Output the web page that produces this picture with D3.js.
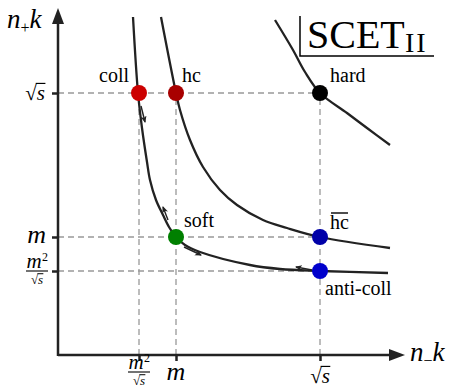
<!DOCTYPE html>
<html><head><meta charset="utf-8">
<script src="https://cdn.jsdelivr.net/npm/d3@7"></script>
<style>body{margin:0;background:#fff}svg{display:block}</style>
</head><body>
<script>
// ---- data (schematic units, origin at axes crossing) ----
const xTickVals = [81, 118, 262];          // m^2/√s, m, √s
const yTickVals = [84, 118, 262];          // m^2/√s, m, √s
const tickKinds = ["frac", "m", "sqrt"];

const pointNames  = ["coll", "hc", "hard", "soft", "hc\u0305", "anti-coll"];
const pointX      = [81, 118, 262, 118, 262, 262];
const pointY      = [262, 262, 262, 118, 118, 84];
const pointColors = ["#cc0000", "#a80000", "#000000", "#008000", "#0000a8", "#0000cc"];

// hyperbola-like curves
const curveCollX = [75, 80, 84, 89, 92, 98, 105, 111, 118, 127, 142, 192, 222, 262, 330];
const curveCollY = [338, 262, 227, 193, 175, 155, 140, 128, 118, 110, 103, 90, 86, 84, 82];
const curveHcX   = [103, 118, 122, 132, 145, 162, 179, 205, 229, 262, 332];
const curveHcY   = [338, 262, 245, 215, 188, 165, 150, 135, 127, 118, 107];
const curveHardX = [217, 235, 247, 262, 289, 309, 332];
const curveHardY = [335, 305, 283, 262, 242, 227, 210];

// flow arrows along the coll/soft/anti-coll curve
const arrowX0 = [83, 110, 126, 254];
const arrowY0 = [249, 135, 108, 85];
const arrowX1 = [87, 105, 143, 238];
const arrowY1 = [233, 148, 100, 88];

// ---- setup ----
const W = 450, H = 388;
const FONT = '"Liberation Serif"';
const svg = d3.select("body").append("svg").attr("width", W).attr("height", H)
  .attr("font-family", "Liberation Serif").style("font-family", FONT);
const x = d3.scaleLinear().domain([0, 347]).range([58, 405]);
const y = d3.scaleLinear().domain([0, 347]).range([355, 8]);
const ink = "#222";

svg.append("defs").append("marker")
  .attr("id", "ah").attr("markerUnits", "userSpaceOnUse")
  .attr("markerWidth", 8).attr("markerHeight", 8)
  .attr("refX", 6).attr("refY", 3).attr("orient", "auto")
  .append("path").attr("d", "M0,0 L7,3 L0,6 L2,3 z").attr("fill", ink);

// dashed guide lines
const guides = svg.append("g").attr("stroke", "#999").attr("stroke-width", 1.3)
  .attr("stroke-dasharray", "6,4").attr("fill", "none");
xTickVals.forEach(v => guides.append("line")
  .attr("x1", x(v)).attr("x2", x(v)).attr("y1", y(0)).attr("y2", y(yTickVals[2])));
yTickVals.forEach(v => guides.append("line")
  .attr("x1", x(0)).attr("x2", x(xTickVals[2])).attr("y1", y(v)).attr("y2", y(v)));

// axes with ticks
const xAxis = svg.append("g").attr("transform", `translate(0,${y(0)})`)
  .call(d3.axisBottom(x).tickValues(xTickVals).tickSize(6).tickFormat(""));
const yAxis = svg.append("g").attr("transform", `translate(${x(0)},0)`)
  .call(d3.axisLeft(y).tickValues(yTickVals).tickSize(6).tickFormat(""));
[xAxis, yAxis].forEach(a => {
  a.attr("font-family", null).attr("font-size", null);
  a.select(".domain").remove();
  a.selectAll(".tick text").remove();
  a.selectAll(".tick line").attr("stroke", ink).attr("stroke-width", 2.5);
});
svg.append("line").attr("x1", x(0)).attr("x2", x(333)).attr("y1", y(0)).attr("y2", y(0))
  .attr("stroke", ink).attr("stroke-width", 2.5);
svg.append("line").attr("x1", x(0)).attr("x2", x(0)).attr("y1", y(-1)).attr("y2", y(333))
  .attr("stroke", ink).attr("stroke-width", 2.5);
svg.append("path").attr("fill", ink)
  .attr("d", `M${x(347)},${y(0)} L${x(331)},${y(0) - 6} L${x(331)},${y(0) + 6} Z`);
svg.append("path").attr("fill", ink)
  .attr("d", `M${x(0)},${y(347)} L${x(0) - 6},${y(331)} L${x(0) + 6},${y(331)} Z`);

// curves
const line = d3.line().x(d => x(d[0])).y(d => y(d[1])).curve(d3.curveCatmullRom.alpha(0.5));
[[curveCollX, curveCollY], [curveHcX, curveHcY], [curveHardX, curveHardY]].forEach(([xs, ys]) => {
  svg.append("path").attr("d", line(d3.zip(xs, ys)))
    .attr("fill", "none").attr("stroke", ink).attr("stroke-width", 2.3);
});

// flow arrows
arrowX0.forEach((v, i) => {
  svg.append("line").attr("x1", x(v)).attr("y1", y(arrowY0[i]))
    .attr("x2", x(arrowX1[i])).attr("y2", y(arrowY1[i]))
    .attr("stroke", ink).attr("stroke-width", 1.4).attr("marker-end", "url(#ah)");
});

// points
pointNames.forEach((n, i) => {
  svg.append("circle").attr("cx", x(pointX[i])).attr("cy", y(pointY[i])).attr("r", 8)
    .attr("fill", pointColors[i]);
});

function T(g) {
  return g.append("text").attr("font-family", "Liberation Serif")
    .style("font-family", FONT).attr("fill", "#000");
}

// point labels
function label(txt, px, py, anchor) {
  return T(svg).attr("x", px).attr("y", py).attr("text-anchor", anchor || "start")
    .attr("font-size", 20).text(txt);
}
label(pointNames[0], x(pointX[0]) - 10, y(pointY[0]) - 11, "end");
label(pointNames[1], x(pointX[1]) + 6, y(pointY[1]) - 11);
label(pointNames[2], x(pointX[2]) + 10, y(pointY[2]) - 11);
label(pointNames[3], x(pointX[3]) + 8, y(pointY[3]) - 10);
label("hc", x(pointX[4]) + 10, y(pointY[4]) - 8);
svg.append("line").attr("x1", x(pointX[4]) + 11).attr("x2", x(pointX[4]) + 28)
  .attr("y1", y(pointY[4]) - 24).attr("y2", y(pointY[4]) - 24)
  .attr("stroke", "#000").attr("stroke-width", 1.4);
label(pointNames[5], x(pointX[5]) + 5, y(pointY[5]) + 24);

// math helpers (no text measuring; Liberation Serif metrics)
function sqrtS(g, size, ax, base, anchor) {
  const w = 0.94 * size;
  const end = anchor === "end" ? ax : anchor === "middle" ? ax + w / 2 : ax + w;
  const t = T(g).attr("x", end).attr("y", base).attr("text-anchor", "end").attr("font-size", size);
  t.append("tspan").text("√");
  t.append("tspan").attr("font-style", "italic").text("s");
  g.append("line").attr("x1", end - 0.44 * size).attr("x2", end + 0.02 * size)
    .attr("y1", base - 0.79 * size).attr("y2", base - 0.79 * size)
    .attr("stroke", "#000").attr("stroke-width", Math.max(1, size * 0.055));
}
function mathM(g, size, ax, base, anchor) {
  T(g).attr("x", ax).attr("y", base).attr("text-anchor", anchor)
    .attr("font-style", "italic").attr("font-size", size).text("m");
}
function frac(g, cx, cy) {
  T(g).attr("x", cx - 3).attr("y", cy - 3).attr("text-anchor", "middle")
    .attr("font-style", "italic").attr("font-size", 21).text("m");
  T(g).attr("x", cx + 5).attr("y", cy - 10).attr("font-size", 12).text("2");
  g.append("line").attr("x1", cx - 11).attr("x2", cx + 11).attr("y1", cy).attr("y2", cy)
    .attr("stroke", "#000").attr("stroke-width", 1.1);
  sqrtS(g, 13, cx, cy + 13, "middle");
}

// y tick labels
const ylab = svg.append("g");
tickKinds.forEach((k, i) => {
  const cy = y(yTickVals[i]);
  if (k === "frac") frac(ylab, 37, cy);
  else if (k === "m") mathM(ylab, 26, 46, cy + 6, "end");
  else sqrtS(ylab, 21, 45, cy + 7, "end");
});
// x tick labels
const xlab = svg.append("g");
tickKinds.forEach((k, i) => {
  const cx = x(xTickVals[i]);
  if (k === "frac") frac(xlab, cx, 372);
  else if (k === "m") mathM(xlab, 26, cx, 380, "middle");
  else sqrtS(xlab, 21, cx, 383, "middle");
});

// axis titles
function axisTitle(sub, px, py) {
  const t = T(svg).attr("x", px).attr("y", py).attr("font-size", 27).attr("font-style", "italic");
  t.append("tspan").text("n");
  t.append("tspan").attr("font-style", "normal").attr("font-size", 16).attr("dy", 5).text(sub);
  t.append("tspan").attr("dy", -5).text("k");
}
axisTitle("+", 7, 28);
axisTitle("−", 410, 361);

// SCET_II box
const sc = svg.append("g");
T(sc).attr("x", 307).attr("y", 48).attr("font-size", 40).text("SCET");
T(sc).attr("x", 405).attr("y", 52).attr("font-size", 28).attr("letter-spacing", 2).text("II");
sc.append("path").attr("d", "M300,16 L300,56 L434,56").attr("fill", "none")
  .attr("stroke", "#000").attr("stroke-width", 1.5);
</script>
</body></html>
